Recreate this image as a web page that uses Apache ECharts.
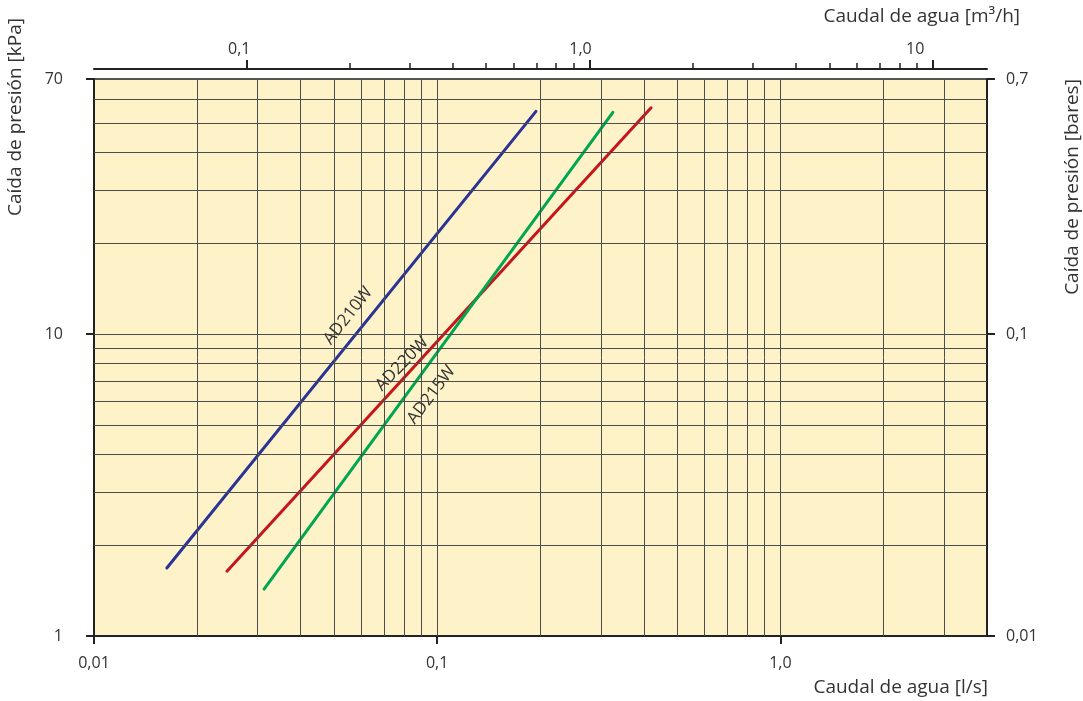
<!DOCTYPE html>
<html>
<head>
<meta charset="utf-8">
<title>Caída de presión</title>
<script src="https://cdn.jsdelivr.net/npm/echarts@6/dist/echarts.min.js"></script>
<style>
  html, body { margin: 0; padding: 0; background: #fff; }
  #chart { width: 1083px; height: 701px; }
</style>
</head>
<body>
<div id="chart"></div>
<script>
// axis ranges (l/s and kPa), the other two axes are derived from them
const flowRange = [0.01, 4];
const dropRange = [1, 70];
const LS_TO_M3H = 3.6;
const KPA_TO_BAR = 0.01;

// ticks and labels
const flowTicks = [0.01, 0.1, 1];
const flowTickLabels = ['0,01', '0,1', '1,0'];
const m3hTicks = [0.1, 1, 10];
const m3hTickLabels = ['0,1', '1,0', '10'];
const m3hMinorTicks = [0.2, 0.3, 0.4, 0.5, 0.6, 0.7, 0.8, 0.9, 2, 3, 4, 5, 6, 7, 8, 9];
const dropTicks = [1, 10, 70];
const dropTickLabels = ['1', '10', '70'];
const barTicks = [0.01, 0.1, 0.7];
const barTickLabels = ['0,01', '0,1', '0,7'];

// grid lines
const flowGridLines = [0.02, 0.03, 0.04, 0.05, 0.06, 0.07, 0.08, 0.09, 0.1,
  0.2, 0.3, 0.4, 0.5, 0.6, 0.7, 0.8, 0.9, 1, 2, 3];
const dropGridLines = [2, 3, 4, 5, 6, 7, 8, 9, 10, 20, 30, 40, 50, 60];

// valve curves: flow [l/s] vs pressure drop [kPa]
const models = ['AD210W', 'AD220W', 'AD215W'];
const ad210wFlow = [0.0163, 0.194];
const ad210wDrop = [1.68, 54.7];
const ad220wFlow = [0.0244, 0.42];
const ad220wDrop = [1.64, 56.2];
const ad215wFlow = [0.0313, 0.325];
const ad215wDrop = [1.43, 54.3];

// where the model names sit (data coords) and their slant
const labelFlow = [0.055, 0.079, 0.0962];
const labelDrop = [11.5, 7.96, 6.29];
const labelAngle = [52, 46, 53];

const colors = ['#2b3494', '#c4161c', '#00a651'];
const FONT = '"Open Sans", "Noto Sans", sans-serif';
const TEXT = '#333';
const AXIS = '#222';
const TICK_SIZE = 16;
const TITLE_SIZE = 19;

function pick(ticks, labels) {
  return function (v) {
    let best = 0;
    for (let i = 1; i < ticks.length; i++) {
      if (Math.abs(Math.log(v / ticks[i])) < Math.abs(Math.log(v / ticks[best]))) best = i;
    }
    return labels[best];
  };
}

function zip(xs, ys) {
  return xs.map((x, i) => [x, ys[i]]);
}

const curves = [
  zip(ad210wFlow, ad210wDrop),
  zip(ad220wFlow, ad220wDrop),
  zip(ad215wFlow, ad215wDrop)
];

const axisLine = { show: true, onZero: false, lineStyle: { color: AXIS, width: 2 } };
const tickStyle = { color: AXIS, width: 2 };

const topLabel = pick(m3hTicks, m3hTickLabels);
const topPad = { '0,1': 14, '1,0': 18, '10': 35 };
const richPad = (p) => ({ padding: [0, p, 0, 0], fontSize: TICK_SIZE, color: TEXT, fontFamily: FONT });

const option = {
  animation: false,
  textStyle: { fontFamily: FONT },
  grid: {
    left: 94, right: 96, top: 79, bottom: 65,
    show: true,
    backgroundColor: '#fdf2c8',
    borderColor: AXIS,
    borderWidth: 1.5
  },
  xAxis: [
    {
      type: 'log', min: flowRange[0], max: flowRange[1], position: 'bottom',
      axisLine: axisLine,
      axisTick: { show: true, customValues: flowTicks, length: 8, lineStyle: tickStyle },
      axisLabel: { customValues: flowTicks, formatter: pick(flowTicks, flowTickLabels),
        margin: 19, color: TEXT, fontSize: TICK_SIZE, fontFamily: FONT },
      splitLine: { show: false }, minorTick: { show: false }
    },
    {
      type: 'log', min: flowRange[0] * LS_TO_M3H, max: flowRange[1] * LS_TO_M3H,
      position: 'top', offset: 10,
      axisLine: axisLine,
      axisTick: { show: true, customValues: m3hTicks, length: 9, lineStyle: tickStyle },
      axisLabel: {
        customValues: m3hTicks,
        formatter: function (v) {
          const s = topLabel(v);
          return '{p' + topPad[s] + '|' + s + '}';
        },
        rich: { p14: richPad(14), p18: richPad(18), p35: richPad(35) },
        margin: 12, color: TEXT, fontSize: TICK_SIZE
      },
      splitLine: { show: false }
    },
    {
      type: 'log', min: flowRange[0] * LS_TO_M3H, max: flowRange[1] * LS_TO_M3H,
      position: 'top', offset: 10,
      axisLine: { show: false },
      axisTick: { show: true, customValues: m3hMinorTicks, length: 6, lineStyle: { color: AXIS, width: 1.5 } },
      axisLabel: { show: false },
      splitLine: { show: false }
    }
  ],
  yAxis: [
    {
      type: 'log', min: dropRange[0], max: dropRange[1], position: 'left',
      axisLine: axisLine,
      axisTick: { show: true, customValues: dropTicks, length: 8, lineStyle: tickStyle },
      axisLabel: { customValues: dropTicks, formatter: pick(dropTicks, dropTickLabels),
        margin: 31, color: TEXT, fontSize: TICK_SIZE, fontFamily: FONT },
      splitLine: { show: false }
    },
    {
      type: 'log', min: dropRange[0] * KPA_TO_BAR, max: dropRange[1] * KPA_TO_BAR, position: 'right',
      axisLine: axisLine,
      axisTick: { show: true, customValues: barTicks, length: 8, lineStyle: tickStyle },
      axisLabel: { customValues: barTicks, formatter: pick(barTicks, barTickLabels),
        margin: 19, color: TEXT, fontSize: TICK_SIZE, fontFamily: FONT },
      splitLine: { show: false }
    }
  ],
  graphic: [
    { type: 'text', x: 16, y: 117, rotation: Math.PI / 2,
      style: { text: 'Caída de presión [kPa]', fill: TEXT, font: TITLE_SIZE + 'px ' + FONT, textAlign: 'center', textVerticalAlign: 'middle' } },
    { type: 'text', x: 1073, y: 187, rotation: Math.PI / 2,
      style: { text: 'Caída de presión [bares]', fill: TEXT, font: TITLE_SIZE + 'px ' + FONT, textAlign: 'center', textVerticalAlign: 'middle' } },
    { type: 'text', x: 1020, y: 17,
      style: { text: 'Caudal de agua [m³/h]', fill: TEXT, font: TITLE_SIZE + 'px ' + FONT, textAlign: 'right', textVerticalAlign: 'middle' } },
    { type: 'text', x: 988, y: 688,
      style: { text: 'Caudal de agua [l/s]', fill: TEXT, font: TITLE_SIZE + 'px ' + FONT, textAlign: 'right', textVerticalAlign: 'middle' } }
  ],
  series: [
    {
      name: 'grid', type: 'line', xAxisIndex: 0, yAxisIndex: 0, data: [],
      silent: true,
      markLine: {
        silent: true, symbol: 'none', label: { show: false },
        lineStyle: { color: '#4d4d4d', width: 1, type: 'solid' },
        emphasis: { disabled: true },
        data: flowGridLines.map(v => ({ xAxis: v }))
          .concat(dropGridLines.map(v => ({ yAxis: v })))
      }
    }
  ].concat(models.map((name, i) => ({
    name: name, type: 'line', xAxisIndex: 0, yAxisIndex: 0,
    data: curves[i], showSymbol: false, symbol: 'none',
    lineStyle: { color: colors[i], width: 3, cap: 'round' },
    itemStyle: { color: colors[i] },
    z: 3,
    markPoint: {
      silent: true, symbol: 'circle', symbolSize: 1,
      itemStyle: { color: 'rgba(0,0,0,0)' },
      label: { show: true, position: 'inside', formatter: name, rotate: labelAngle[i],
        color: TEXT, fontSize: 17, fontFamily: FONT },
      data: [{ coord: [labelFlow[i], labelDrop[i]] }]
    }
  })))
};

const chart = echarts.init(document.getElementById('chart'));
chart.setOption(option);
</script>
</body>
</html>
